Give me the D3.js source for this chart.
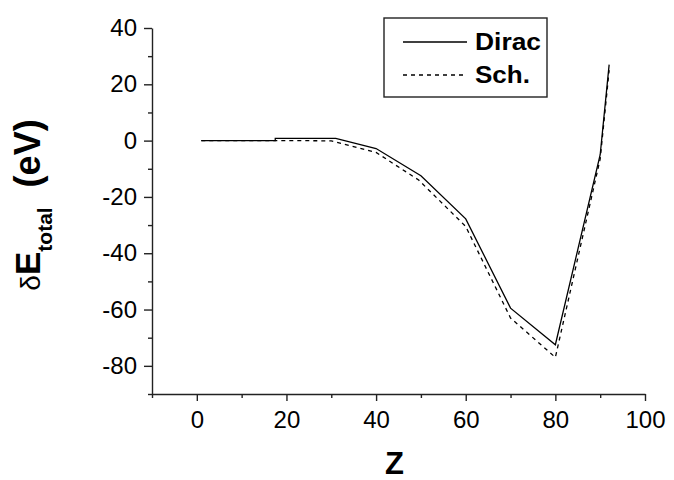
<!DOCTYPE html>
<html>
<head>
<meta charset="utf-8">
<script src="https://cdn.jsdelivr.net/npm/d3@7"></script>
<style>
    body { margin:0; background:#fff; }
    svg { display:block; font-family:"Liberation Sans", Arial, sans-serif; }
    .axis path, .axis line { stroke:#222; stroke-width:1.4px; }
</style>
</head>
<body>
<div id="chart"></div>
<script>
// Z values and delta E_total (eV)
var diracZ = [1, 17.5, 17.5, 31, 40, 50, 60, 70, 80, 90, 92];
var diracE = [0, 0, 0.8, 0.8, -2.8, -12.5, -27.8, -59.5, -72.5, -5, 27];
var schZ = [1, 23, 30, 40, 49.5, 60, 70, 80, 90, 92];
var schE = [0, 0, -0.1, -4.2, -14, -30.5, -63, -77, -6.5, 25];

var xMajor = [0, 20, 40, 60, 80, 100];
var xMinor = [-10, 10, 30, 50, 70, 90];
var yMajor = [40, 20, 0, -20, -40, -60, -80];
var yMinor = [30, 10, -10, -30, -50, -70, -90];

var seriesNames = ["Dirac", "Sch."];

var margin = { left:152, right:29, top:28, bottom:86 };
var width = 674 - margin.left - margin.right;
var height = 480 - margin.top - margin.bottom;

var svg = d3.select("#chart").append("svg")
    .attr("width", 674)
    .attr("height", 480);

var g = svg.append("g")
    .attr("transform", "translate(" + margin.left + "," + margin.top + ")");

// Scales
var x = d3.scaleLinear().domain([-10, 100]).range([0, width]);
var y = d3.scaleLinear().domain([-90, 40]).range([height, 0]);

// plain hyphen for negatives, like the original
var fmt = function(d) { return String(d); };

// Axes: major + minor ticks, outward like Origin
var xAxis = g.append("g")
    .attr("class", "axis")
    .attr("transform", "translate(0," + height + ")");
xAxis.call(d3.axisBottom(x).tickValues(xMajor).tickFormat(fmt).tickSize(7).tickPadding(5).tickSizeOuter(0));
xAxis.append("g").call(d3.axisBottom(x).tickValues(xMinor).tickSize(4).tickFormat("").tickSizeOuter(0))
    .select(".domain").remove();

var yAxis = g.append("g").attr("class", "axis");
yAxis.call(d3.axisLeft(y).tickValues(yMajor).tickFormat(fmt).tickSize(8).tickPadding(7).tickSizeOuter(0));
yAxis.append("g").call(d3.axisLeft(y).tickValues(yMinor).tickSize(4).tickFormat("").tickSizeOuter(0))
    .select(".domain").remove();

svg.selectAll(".axis text")
    .attr("font-family", "Liberation Sans, Arial, sans-serif")
    .attr("font-size", "24px")
    .attr("fill", "#000");
xAxis.selectAll("text").attr("dy", "0.9em");

// Lines
var line = d3.line()
    .x(function(d) { return x(d[0]); })
    .y(function(d) { return y(d[1]); });

var diracData = diracZ.map(function(z, i) { return [z, diracE[i]]; });
var schData = schZ.map(function(z, i) { return [z, schE[i]]; });

g.append("path")
    .attr("d", line(schData))
    .attr("fill", "none")
    .attr("stroke", "#000")
    .attr("stroke-width", 1.3)
    .attr("stroke-dasharray", "4,4");

g.append("path")
    .attr("d", line(diracData))
    .attr("fill", "none")
    .attr("stroke", "#000")
    .attr("stroke-width", 1.3);

// Legend
var legend = svg.append("g").attr("transform", "translate(384,18)");
legend.append("rect")
    .attr("width", 163)
    .attr("height", 79)
    .attr("fill", "none")
    .attr("stroke", "#222")
    .attr("stroke-width", 1.4);

var legendWidths = [66, 55];
seriesNames.forEach(function(name, i) {
    var ly = 24 + i * 33;
    legend.append("line")
        .attr("x1", 19).attr("x2", 83)
        .attr("y1", ly).attr("y2", ly)
        .attr("stroke", "#000")
        .attr("stroke-width", 1.3)
        .attr("stroke-dasharray", i === 1 ? "4,4" : null);
    legend.append("text")
        .attr("x", 91)
        .attr("y", ly + 8)
        .attr("font-size", "24px")
        .attr("font-weight", "bold")
        .attr("textLength", legendWidths[i])
        .attr("lengthAdjust", "spacingAndGlyphs")
        .text(name);
});

// Axis titles
svg.append("text")
    .attr("x", margin.left + width / 2 - 4)
    .attr("y", 474)
    .attr("text-anchor", "middle")
    .attr("font-size", "31px")
    .attr("font-weight", "bold")
    .text("Z");

var yLabel = svg.append("text")
    .attr("transform", "translate(40,205) rotate(-90)")
    .attr("text-anchor", "middle")
    .attr("font-weight", "bold");
yLabel.append("tspan").attr("font-size", "28px").attr("font-weight", "normal").text("δ");
yLabel.append("tspan").attr("font-size", "35px").text("E");
yLabel.append("tspan").attr("font-size", "21px").attr("dy", 12).text("total");
yLabel.append("tspan").attr("font-size", "36px").attr("dy", -12).attr("dx", 20).text("(eV)");
</script>
</body>
</html>
